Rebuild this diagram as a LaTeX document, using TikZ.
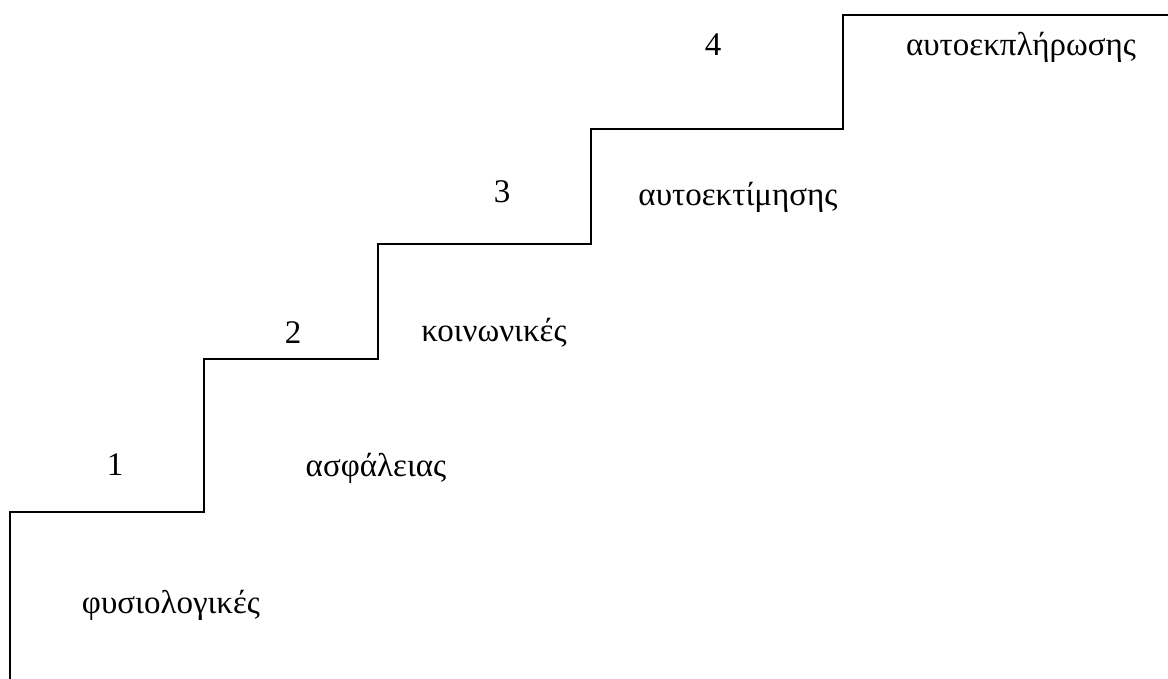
\documentclass[tikz,border=0pt]{standalone}
\usepackage{fontspec}
\setmainfont{Liberation Serif}
\begin{document}
\begin{tikzpicture}[x=1pt,y=-1pt,
  stair/.style={line width=2.6pt,line join=miter,black},
  level/.style={font=\fontsize{33}{38}\selectfont,inner sep=0pt,anchor=center},
  num/.style={font=\fontsize{33}{38}\selectfont,inner sep=0pt,anchor=center}]
\useasboundingbox (0,0) rectangle (1168,679);
% corners of the staircase
\coordinate (s0) at (10,679);
\coordinate (s1) at (10,512);
\coordinate (s2) at (204,512);
\coordinate (s3) at (204,359);
\coordinate (s4) at (378,359);
\coordinate (s5) at (378,244);
\coordinate (s6) at (591,244);
\coordinate (s7) at (591,129);
\coordinate (s8) at (843,129);
\coordinate (s9) at (843,15);
\coordinate (s10) at (1168,15);
\draw[stair] (s0) -- (s1) -- (s2) -- (s3) -- (s4) -- (s5) -- (s6) -- (s7) -- (s8) -- (s9) -- (s10);
% step numbers
\node[num] (n1) at (115,465) {1};
\node[num] (n2) at (293,333) {2};
\node[num] (n3) at (502,192) {3};
\node[num] (n4) at (713,45) {4};
% needs levels
\node[level] (l1) at (171,605) {φυσιολογικές};
\node[level] (l2) at (376,468) {ασφάλειας};
\node[level] (l3) at (494,333) {κοινωνικές};
\node[level] (l4) at (738,197) {αυτοεκτίμησης};
\node[level] (l5) at (1021,47) {αυτοεκπλήρωσης};
\end{tikzpicture}
\end{document}
